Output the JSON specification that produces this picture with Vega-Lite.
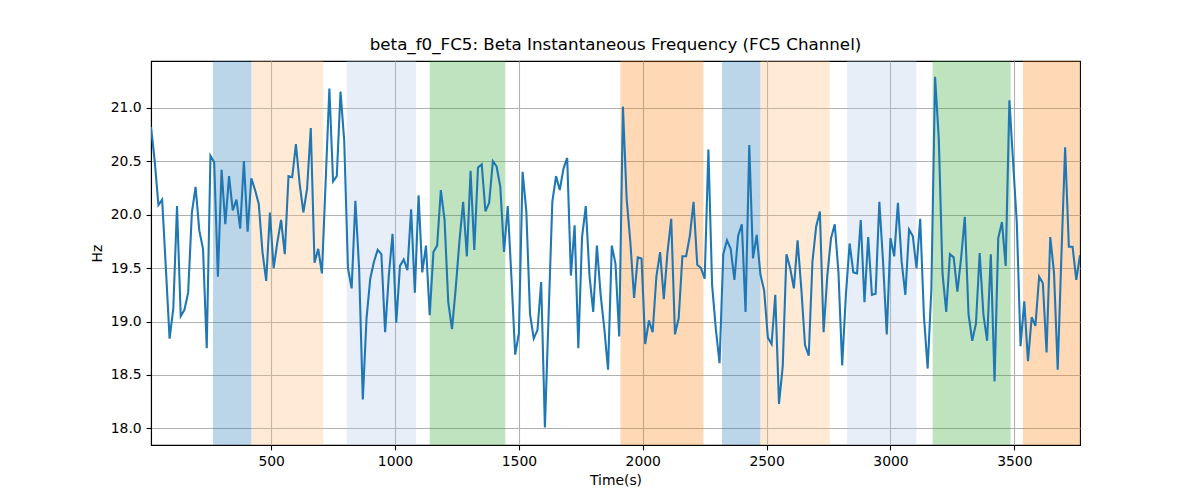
{
  "$schema": "https://vega.github.io/schema/vega-lite/v6.json",
  "width": 929,
  "height": 384,
  "autosize": {"type": "none"},
  "padding": {"left": 151, "top": 61, "right": 120, "bottom": 55},
  "background": "white",
  "config": {
    "font": "DejaVu Sans",
    "view": {"stroke": "black", "strokeWidth": 1.1},
    "axis": {
      "labelFont": "DejaVu Sans", "labelFontSize": 13.9, "labelColor": "black",
      "titleFont": "DejaVu Sans", "titleFontSize": 13.9, "titleColor": "black", "titleFontWeight": "normal",
      "domainColor": "black", "domainWidth": 1.1, "tickColor": "black", "tickWidth": 1.1, "tickSize": 4.9,
      "labelPadding": 4.9, "gridColor": "#b0b0b0", "gridWidth": 1.1, "grid": true
    }
  },
  "title": {"text": "beta_f0_FC5: Beta Instantaneous Frequency (FC5 Channel)", "font": "DejaVu Sans", "fontSize": 16.7, "fontWeight": "normal", "color": "black", "offset": 7},
  "datasets": {
    "bands": [
      {"start": 265, "end": 420, "band": "blue"},
      {"start": 420, "end": 710, "band": "lightorange"},
      {"start": 805, "end": 1085, "band": "lightblue"},
      {"start": 1140, "end": 1445, "band": "green"},
      {"start": 1910, "end": 2245, "band": "orange"},
      {"start": 2320, "end": 2475, "band": "blue"},
      {"start": 2475, "end": 2755, "band": "lightorange"},
      {"start": 2825, "end": 3105, "band": "lightblue"},
      {"start": 3170, "end": 3485, "band": "green"},
      {"start": 3535, "end": 3765, "band": "orange"}
    ],
    "series": [
      {"t":15,"hz":20.82},{"t":30,"hz":20.50},{"t":45,"hz":20.09},{"t":60,"hz":20.14},{"t":75,"hz":19.50},
      {"t":90,"hz":18.84},{"t":105,"hz":19.12},{"t":120,"hz":20.08},{"t":135,"hz":19.05},{"t":150,"hz":19.11},
      {"t":165,"hz":19.27},{"t":180,"hz":20.02},{"t":195,"hz":20.26},{"t":210,"hz":19.85},{"t":225,"hz":19.68},
      {"t":240,"hz":18.75},{"t":255,"hz":20.55},{"t":270,"hz":20.49},{"t":285,"hz":19.42},{"t":300,"hz":20.42},
      {"t":315,"hz":19.91},{"t":330,"hz":20.36},{"t":345,"hz":20.04},{"t":360,"hz":20.14},{"t":375,"hz":19.87},
      {"t":390,"hz":20.50},{"t":405,"hz":19.84},{"t":420,"hz":20.34},{"t":435,"hz":20.23},{"t":450,"hz":20.10},
      {"t":465,"hz":19.65},{"t":480,"hz":19.38},{"t":495,"hz":20.02},{"t":510,"hz":19.50},{"t":525,"hz":19.74},
      {"t":540,"hz":19.95},{"t":555,"hz":19.63},{"t":570,"hz":20.36},{"t":585,"hz":20.35},{"t":600,"hz":20.66},
      {"t":615,"hz":20.29},{"t":630,"hz":20.02},{"t":645,"hz":20.24},{"t":660,"hz":20.81},{"t":675,"hz":19.55},
      {"t":690,"hz":19.68},{"t":705,"hz":19.45},{"t":720,"hz":20.31},{"t":735,"hz":21.18},{"t":750,"hz":20.31},
      {"t":765,"hz":20.36},{"t":780,"hz":21.15},{"t":795,"hz":20.69},{"t":810,"hz":19.50},{"t":825,"hz":19.31},
      {"t":840,"hz":20.13},{"t":855,"hz":19.50},{"t":870,"hz":18.27},{"t":885,"hz":19.03},{"t":900,"hz":19.40},
      {"t":915,"hz":19.56},{"t":930,"hz":19.67},{"t":945,"hz":19.63},{"t":960,"hz":18.90},{"t":975,"hz":19.43},
      {"t":990,"hz":19.82},{"t":1005,"hz":18.99},{"t":1020,"hz":19.52},{"t":1035,"hz":19.58},{"t":1050,"hz":19.48},
      {"t":1065,"hz":20.05},{"t":1080,"hz":19.27},{"t":1095,"hz":20.18},{"t":1110,"hz":19.46},{"t":1125,"hz":19.71},
      {"t":1140,"hz":19.06},{"t":1155,"hz":19.65},{"t":1170,"hz":19.71},{"t":1185,"hz":20.23},{"t":1200,"hz":19.95},
      {"t":1215,"hz":19.18},{"t":1230,"hz":18.93},{"t":1245,"hz":19.31},{"t":1260,"hz":19.75},{"t":1275,"hz":20.12},
      {"t":1290,"hz":19.61},{"t":1305,"hz":20.41},{"t":1320,"hz":19.67},{"t":1335,"hz":20.44},{"t":1350,"hz":20.47},
      {"t":1365,"hz":20.03},{"t":1380,"hz":20.11},{"t":1395,"hz":20.50},{"t":1410,"hz":20.45},{"t":1425,"hz":20.26},
      {"t":1440,"hz":19.65},{"t":1455,"hz":20.08},{"t":1470,"hz":19.41},{"t":1485,"hz":18.69},{"t":1500,"hz":18.89},
      {"t":1515,"hz":20.40},{"t":1530,"hz":20.03},{"t":1545,"hz":19.07},{"t":1560,"hz":18.84},{"t":1575,"hz":18.92},
      {"t":1590,"hz":19.37},{"t":1605,"hz":18.01},{"t":1620,"hz":19.06},{"t":1635,"hz":20.12},{"t":1650,"hz":20.36},
      {"t":1665,"hz":20.23},{"t":1680,"hz":20.43},{"t":1695,"hz":20.53},{"t":1710,"hz":19.43},{"t":1725,"hz":19.90},
      {"t":1740,"hz":18.75},{"t":1755,"hz":19.79},{"t":1770,"hz":20.08},{"t":1785,"hz":19.43},{"t":1800,"hz":19.09},
      {"t":1815,"hz":19.71},{"t":1830,"hz":19.25},{"t":1845,"hz":18.93},{"t":1860,"hz":18.55},{"t":1875,"hz":19.71},
      {"t":1890,"hz":19.54},{"t":1905,"hz":18.86},{"t":1920,"hz":21.01},{"t":1935,"hz":20.15},{"t":1950,"hz":19.74},
      {"t":1965,"hz":19.22},{"t":1980,"hz":19.60},{"t":1995,"hz":19.59},{"t":2010,"hz":18.79},{"t":2025,"hz":19.01},
      {"t":2040,"hz":18.90},{"t":2055,"hz":19.42},{"t":2070,"hz":19.65},{"t":2085,"hz":19.21},{"t":2100,"hz":19.65},
      {"t":2115,"hz":19.96},{"t":2130,"hz":18.88},{"t":2145,"hz":19.03},{"t":2160,"hz":19.61},{"t":2175,"hz":19.61},
      {"t":2190,"hz":19.80},{"t":2205,"hz":20.12},{"t":2220,"hz":19.53},{"t":2235,"hz":19.50},{"t":2250,"hz":19.40},
      {"t":2265,"hz":20.61},{"t":2280,"hz":19.34},{"t":2295,"hz":18.93},{"t":2310,"hz":18.61},{"t":2325,"hz":19.63},
      {"t":2340,"hz":19.76},{"t":2355,"hz":19.68},{"t":2370,"hz":19.39},{"t":2385,"hz":19.80},{"t":2400,"hz":19.91},
      {"t":2415,"hz":19.09},{"t":2430,"hz":20.65},{"t":2445,"hz":19.59},{"t":2460,"hz":19.81},{"t":2475,"hz":19.44},
      {"t":2490,"hz":19.29},{"t":2505,"hz":18.85},{"t":2520,"hz":18.79},{"t":2535,"hz":19.25},{"t":2550,"hz":18.23},
      {"t":2565,"hz":18.58},{"t":2580,"hz":19.63},{"t":2595,"hz":19.50},{"t":2610,"hz":19.31},{"t":2625,"hz":19.76},
      {"t":2640,"hz":19.31},{"t":2655,"hz":18.78},{"t":2670,"hz":18.68},{"t":2685,"hz":19.56},{"t":2700,"hz":19.89},
      {"t":2715,"hz":20.03},{"t":2730,"hz":18.90},{"t":2745,"hz":19.43},{"t":2760,"hz":19.78},{"t":2775,"hz":19.91},
      {"t":2790,"hz":19.46},{"t":2805,"hz":18.59},{"t":2820,"hz":19.25},{"t":2835,"hz":19.73},{"t":2850,"hz":19.46},
      {"t":2865,"hz":19.45},{"t":2880,"hz":19.95},{"t":2895,"hz":19.18},{"t":2910,"hz":19.79},{"t":2925,"hz":19.25},
      {"t":2940,"hz":19.26},{"t":2955,"hz":20.12},{"t":2970,"hz":19.56},{"t":2985,"hz":18.88},{"t":3000,"hz":19.78},
      {"t":3015,"hz":19.61},{"t":3030,"hz":20.11},{"t":3045,"hz":19.56},{"t":3060,"hz":19.25},{"t":3075,"hz":19.86},
      {"t":3090,"hz":19.80},{"t":3105,"hz":19.50},{"t":3120,"hz":19.96},{"t":3135,"hz":19.05},{"t":3150,"hz":18.56},
      {"t":3165,"hz":19.30},{"t":3180,"hz":21.29},{"t":3195,"hz":20.71},{"t":3210,"hz":19.45},{"t":3225,"hz":19.09},
      {"t":3240,"hz":19.63},{"t":3255,"hz":19.60},{"t":3270,"hz":19.28},{"t":3285,"hz":19.59},{"t":3300,"hz":19.98},
      {"t":3315,"hz":19.07},{"t":3330,"hz":18.82},{"t":3345,"hz":18.98},{"t":3360,"hz":19.64},{"t":3375,"hz":19.07},
      {"t":3390,"hz":18.82},{"t":3405,"hz":19.63},{"t":3420,"hz":18.44},{"t":3435,"hz":19.78},{"t":3450,"hz":19.93},
      {"t":3465,"hz":19.52},{"t":3480,"hz":21.07},{"t":3495,"hz":20.49},{"t":3510,"hz":19.92},{"t":3525,"hz":18.77},
      {"t":3540,"hz":19.19},{"t":3555,"hz":18.63},{"t":3570,"hz":19.04},{"t":3585,"hz":18.96},{"t":3600,"hz":19.42},
      {"t":3615,"hz":19.36},{"t":3630,"hz":18.71},{"t":3645,"hz":19.79},{"t":3660,"hz":19.46},{"t":3675,"hz":18.55},
      {"t":3690,"hz":19.62},{"t":3705,"hz":20.63},{"t":3720,"hz":19.70},{"t":3735,"hz":19.70},{"t":3750,"hz":19.39},
      {"t":3765,"hz":19.62}
    ]
  },
  "layer": [
    {
      "data": {"name": "bands"},
      "mark": {"type": "rect", "opacity": 0.3, "strokeWidth": 1},
      "encoding": {
        "x": {"field": "start", "type": "quantitative", "scale": {"domain": [15, 3765], "nice": false, "zero": false},
              "axis": {"title": "Time(s)", "values": [500, 1000, 1500, 2000, 2500, 3000, 3500], "format": "d", "titlePadding": 5}},
        "x2": {"field": "end"},
        "color": {"field": "band", "type": "nominal", "legend": null,
                  "scale": {"domain": ["blue", "lightorange", "lightblue", "green", "orange"],
                            "range": ["#1f77b4", "#ffbb78", "#aec7e8", "#2ca02c", "#ff7f0e"]}}
      }
    },
    {
      "data": {"name": "series"},
      "mark": {"type": "line", "color": "#1f77b4", "strokeWidth": 2.08, "clip": true},
      "encoding": {
        "x": {"field": "t", "type": "quantitative"},
        "y": {"field": "hz", "type": "quantitative", "scale": {"domain": [17.845, 21.437], "nice": false, "zero": false},
              "axis": {"title": "Hz", "values": [18.0, 18.5, 19.0, 19.5, 20.0, 20.5, 21.0], "format": ".1f", "titlePadding": 6}}
      }
    }
  ]
}
